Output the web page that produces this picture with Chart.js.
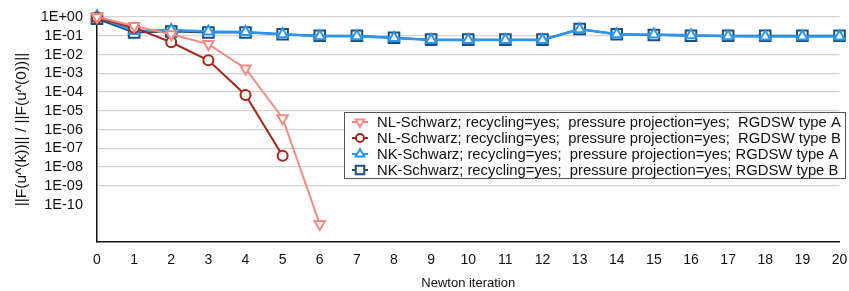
<!DOCTYPE html>
<html>
<head>
<meta charset="utf-8">
<script src="https://cdn.jsdelivr.net/npm/chart.js@4"></script>
<style>
  html, body { margin: 0; padding: 0; background: #fff; }
  #wrap { width: 849px; height: 291px; }
</style>
</head>
<body>
<div id="wrap"><canvas id="chart"></canvas></div>
<script>
const iterations = ["0","1","2","3","4","5","6","7","8","9","10","11","12","13","14","15","16","17","18","19","20"];

const nlTypeA = [1.0, 0.33, 0.12, 0.036, 1.8e-3, 4e-6, 9e-12];
const nlTypeB = [0.9, 0.27, 0.045, 4.9e-3, 7e-5, 4e-8];
const nkTypeA = [1.1, 0.18, 0.2, 0.17, 0.16, 0.12, 0.095, 0.095, 0.075, 0.06, 0.06, 0.06, 0.06, 0.22, 0.12, 0.115, 0.105, 0.095, 0.09, 0.09, 0.09];
const nkTypeB = [0.8, 0.15, 0.17, 0.15, 0.15, 0.12, 0.1, 0.1, 0.078, 0.062, 0.062, 0.062, 0.062, 0.23, 0.12, 0.11, 0.1, 0.1, 0.1, 0.1, 0.1];

const seriesNames = [
  "NL-Schwarz; recycling=yes;  pressure projection=yes;  RGDSW type A",
  "NL-Schwarz; recycling=yes;  pressure projection=yes;  RGDSW type B",
  "NK-Schwarz; recycling=yes;  pressure projection=yes; RGDSW type A",
  "NK-Schwarz; recycling=yes;  pressure projection=yes; RGDSW type B"
];

const yTickLabels = ["1E+00","1E-01","1E-02","1E-03","1E-04","1E-05","1E-06","1E-07","1E-08","1E-09","1E-10"];

const FONT = "'Liberation Sans', Arial, sans-serif";

// legend drawn inside the plot area, boxed
const boxLegend = {
  id: "boxLegend",
  afterDraw(chart) {
    const ctx = chart.ctx;
    const x0 = 344, y0 = 112, w = 502, h = 67;
    ctx.save();
    ctx.fillStyle = "#fff";
    ctx.fillRect(x0, y0, w, h);
    ctx.strokeStyle = "#555";
    ctx.lineWidth = 1;
    ctx.strokeRect(x0 + 0.5, y0 + 0.5, w - 1, h - 1);
    ctx.font = "14.8px " + FONT;
    ctx.textBaseline = "middle";
    chart.data.datasets.forEach((ds, i) => {
      const y = y0 + 10 + i * 16;
      ctx.strokeStyle = ds.borderColor;
      ctx.lineWidth = 2;
      ctx.beginPath();
      ctx.moveTo(352, y);
      ctx.lineTo(368, y);
      ctx.stroke();
      ctx.fillStyle = "#fff";
      Chart.helpers.drawPoint(ctx, {
        pointStyle: ds.pointStyle,
        rotation: ds.pointRotation || 0,
        radius: i == 3 ? 6 : (i == 1 ? 4 : 5),
        borderWidth: 2
      }, 360, y);
      ctx.fillStyle = "#111";
      ctx.fillText(ds.label, 377, y + 0.5);
    });
    ctx.restore();
  }
};

new Chart(document.getElementById("chart"), {
  type: "line",
  data: {
    labels: iterations,
    datasets: [
      {
        label: seriesNames[0],
        data: nlTypeA,
        borderColor: "rgb(246,138,128)",
        backgroundColor: "#fff",
        borderWidth: 2,
        pointStyle: "triangle",
        pointRotation: 180,
        pointRadius: 6,
        pointBorderWidth: 2,
        tension: 0,
        clip: false
      },
      {
        label: seriesNames[1],
        data: nlTypeB,
        borderColor: "rgb(170,36,26)",
        backgroundColor: "#fff",
        borderWidth: 2,
        pointStyle: "circle",
        pointRadius: 5,
        pointBorderWidth: 2,
        tension: 0,
        clip: false
      },
      {
        label: seriesNames[2],
        data: nkTypeA,
        borderColor: "rgb(42,150,240)",
        backgroundColor: "#fff",
        borderWidth: 2.5,
        pointStyle: "triangle",
        pointRadius: 6,
        pointBorderWidth: 2,
        tension: 0,
        clip: false
      },
      {
        label: seriesNames[3],
        data: nkTypeB,
        borderColor: "rgb(30,78,122)",
        backgroundColor: "#fff",
        borderWidth: 2,
        pointStyle: "rect",
        pointRadius: 7.5,
        pointBorderWidth: 2,
        tension: 0,
        clip: false
      }
    ]
  },
  options: {
    responsive: true,
    maintainAspectRatio: false,
    animation: false,
    layout: { padding: { top: 17, right: 0, left: 12, bottom: 0 } },
    plugins: {
      legend: { display: false },
      tooltip: { enabled: false }
    },
    scales: {
      x: {
        type: "category",
        offset: false,
        grid: { display: false, drawTicks: false },
        border: { color: "#111", width: 1.5 },
        ticks: { color: "#111", font: { family: FONT, size: 14 }, padding: 10, maxRotation: 0, autoSkip: false },
        title: { display: true, text: "Newton iteration", color: "#111", font: { family: FONT, size: 13 }, padding: { top: 4, bottom: 0 } },
        afterFit(scale) {
          scale.height = 49;
          scale.paddingLeft = 0;
          scale.paddingRight = 0;
        }
      },
      y: {
        type: "logarithmic",
        min: 1e-12,
        max: 1,
        afterBuildTicks(scale) {
          const t = [];
          for (let e = 0; e >= -12; e--) t.push({ value: Math.pow(10, e) });
          scale.ticks = t;
        },
        grid: {
          drawTicks: false,
          color(c) {
            const e = Math.round(Math.log10(c.tick.value));
            return e >= -9 ? "#d4d4d4" : "rgba(0,0,0,0)";
          },
          lineWidth: 1.2
        },
        border: { color: "#111", width: 1.5 },
        ticks: {
          color: "#111",
          font: { family: FONT, size: 14.5 },
          padding: 14,
          autoSkip: false,
          callback(v) {
            const e = Math.round(Math.log10(v));
            return -e < yTickLabels.length ? yTickLabels[-e] : "";
          }
        },
        title: { display: true, text: "||F(u^(k))|| / ||F(u^(0))||", color: "#111", font: { family: FONT, size: 15.5 }, padding: { top: 0, bottom: 3 } },
        afterFit(scale) {
          scale.width = 85;
          scale.paddingTop = 0;
          scale.paddingBottom = 0;
        }
      }
    }
  },
  plugins: [boxLegend]
});
</script>
</body>
</html>
